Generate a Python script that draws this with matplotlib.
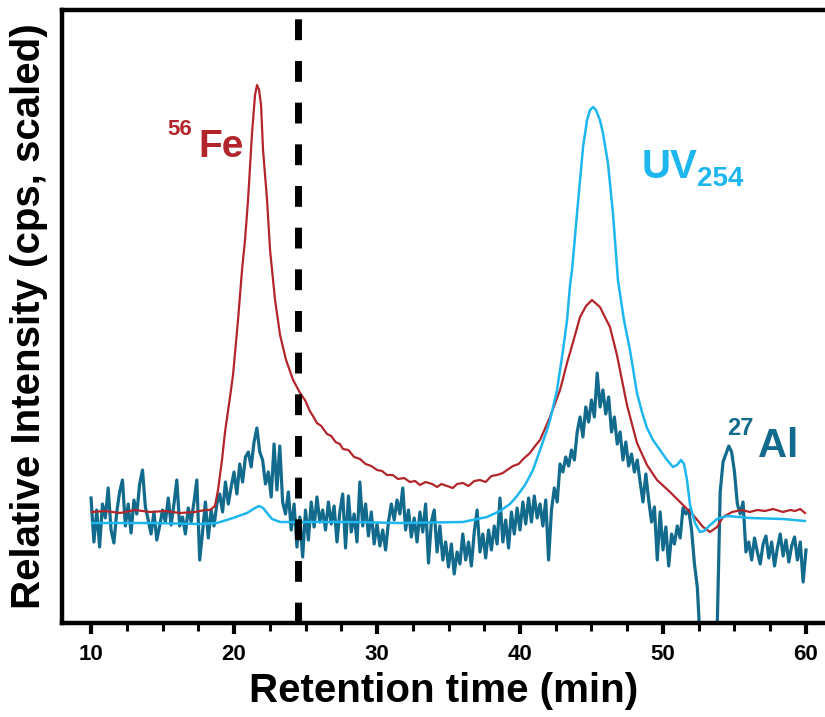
import numpy as np
import matplotlib
matplotlib.use("Agg")
import matplotlib.pyplot as plt
from matplotlib.ticker import MultipleLocator

# --- data -------------------------------------------------------------
# 56Fe ICP-MS trace (retention time in min, scaled cps)
fe_time = [10.07, 10.98, 12.03, 13.08, 14.13, 15.17, 16.22, 17.27, 17.97, 18.32,
           18.67, 18.88, 19.16, 19.37, 19.72, 19.93, 20.28, 20.56, 20.77, 20.98,
           21.26, 21.47, 21.61, 21.75, 21.89, 22.03, 22.31, 22.52, 22.87, 23.22,
           23.64, 24.13, 24.62, 25.00, 25.30, 25.52, 25.80, 26.10, 26.50, 26.80,
           27.10, 27.40, 27.62, 28.00, 28.40, 28.81, 29.20, 29.60, 30.00, 30.35,
           30.70, 31.10, 31.47, 31.90, 32.30, 32.66, 33.00, 33.40, 33.85, 34.20,
           34.50, 34.90, 35.30, 35.60, 36.01, 36.40, 36.80, 37.20, 37.60, 38.00,
           38.39, 38.80, 39.10, 39.51, 39.90, 40.30, 40.70, 41.00, 41.40, 42.10,
           42.80, 43.29, 43.85, 44.20, 44.62, 45.03, 45.59, 46.29, 46.78, 47.48,
           48.18, 48.88, 49.58, 50.49, 51.40, 52.11, 52.80, 53.29, 53.78, 54.20,
           54.83, 55.50, 56.08, 56.60, 57.13, 57.70, 58.39, 58.90, 59.23, 59.60,
           59.93]
fe_signal = [110, 111, 109, 112, 110, 111, 109, 110, 112, 112,
             116, 132, 162, 190, 225, 247, 302, 352, 382, 422,
             489, 527, 537, 532, 517, 472, 422, 372, 322, 287,
             262, 242, 229, 221, 211, 206, 199, 196, 188, 186,
             180, 178, 173, 172, 165, 163, 158, 156, 152, 151,
             147, 147, 143, 144, 140, 141, 137, 140, 138, 135,
             138, 136, 134, 138, 139, 136, 141, 142, 140, 146,
             147, 149, 152, 156, 158, 164, 169, 175, 182, 205,
             232, 259, 287, 305, 316, 322, 315, 295, 267, 217,
             179, 157, 142, 130, 117, 107, 95, 90, 95, 105,
             110, 112, 110, 112, 111, 113, 110, 112, 111, 113,
             109]

# UV absorbance at 254 nm
uv_time = [10.07, 14.13, 17.62, 18.81, 19.93, 20.91, 21.47, 21.75, 22.03, 22.31,
           22.66, 23.22, 24.62, 28.11, 31.61, 36.01, 37.69, 38.60, 39.30, 39.79,
           40.35, 40.91, 41.40, 41.89, 42.10, 42.59, 43.01, 43.29, 43.50, 43.64,
           43.99, 44.20, 44.41, 44.69, 44.90, 45.11, 45.31, 45.59, 45.80, 46.15,
           46.50, 46.85, 47.27, 47.69, 48.18, 48.53, 48.88, 49.30, 49.79, 50.28,
           50.70, 50.98, 51.26, 51.47, 51.68, 51.89, 52.24, 52.59, 52.87, 53.22,
           53.78, 54.48, 56.08, 58.39, 59.93]
uv_signal = [99, 99, 98, 99, 104, 109, 114, 116, 114, 109,
             103, 100, 100, 100, 99, 100, 105, 111, 118, 126,
             137, 152, 172, 192, 202, 232, 272, 302, 337, 352,
             409, 442, 475, 502, 512, 515, 512, 502, 489, 459,
             409, 342, 302, 272, 229, 210, 194, 182, 172, 162,
             155, 157, 162, 158, 142, 117, 99, 90, 91, 96,
             103, 106, 104, 103, 101]

# 27Al ICP-MS trace, sampled every 0.2 min from 10 to 60 min
al_start = 10.0
al_step = 0.2
al_signal = [
    124, 80, 112, 75, 118,    104, 134, 92, 79, 110,
    130, 142, 96, 118, 89,    122, 108, 138, 152, 115,
    102, 88, 110, 82, 96,     112, 100, 124, 97, 118,
    142, 96, 105, 88, 114,    100, 120, 142, 62, 90,
    120, 84, 112, 96, 118,    128, 110, 140, 118, 135,
    150, 128, 158, 140, 165,  170, 155, 180, 194, 170,
    162, 138, 150, 125, 178,  132, 176, 120, 108, 130,
    92, 118, 75, 105, 65,     112, 82, 120, 95, 125,
    100, 112, 92, 120, 98,    116, 80, 110, 128, 74,
    126, 90, 108, 80, 140,    96, 118, 86, 110, 78,
    98, 76, 92, 72, 100,      118, 102, 122, 108, 134,
    92, 112, 85, 104, 80,     110, 90, 118, 59, 100,
    112, 70, 96, 62, 80,      55, 78, 48, 70, 58,
    88, 62, 80, 56, 90,       112, 70, 88, 64, 92,
    72, 96, 78, 124, 80,      102, 74, 110, 88, 114,
    92, 120, 98, 124, 100,    126, 104, 118, 96, 122,
    62, 112, 134, 120, 158,   150, 165, 156, 172, 162,
    190, 205, 185, 215, 200,  222, 205, 249, 215, 232,
    208, 225, 190, 205, 178,  190, 162, 180, 156, 168,
    150, 162, 140, 120, 148,  122, 100, 115, 62, 110,
    72, 95, 56, 88, 78,       96, 84, 114, 108, 112,
    92, 58, 35, -20, -60,     -60, -60, -60, -60, 0,
    130, 160, 168, 176, 170,  150, 118, 108, 120, 70,
    80, 62, 84, 70, 58,       78, 86, 64, 80, 56,
    74, 88, 66, 82, 60,       76, 85, 62, 80, 40,
    72,
]
al_time = al_start + al_step * np.arange(len(al_signal))

void_time = 24.5
x_major = [10, 20, 30, 40, 50, 60]

# --- styling ------------------------------------------------------------
FE_COLOR = "#B2262B"
UV_COLOR = "#1DB6EE"
AL_COLOR = "#126A8C"
BOLD_FONT = ["Liberation Sans", "DejaVu Sans"]
NARROW_FONT = ["Liberation Sans Narrow", "Liberation Sans", "DejaVu Sans"]

fig = plt.figure(figsize=(8.25, 7.17), dpi=100)
ax = fig.add_axes([62 / 825, 94 / 717, 763 / 825, 613 / 717])

ax.plot(al_time, al_signal, color=AL_COLOR, lw=2.3, zorder=2)
ax.plot(fe_time, fe_signal, color=FE_COLOR, lw=1.6, zorder=3)
ax.plot(uv_time, uv_signal, color=UV_COLOR, lw=1.8, zorder=4)

ax.axvline(void_time, color="black", lw=5, dashes=(3.0, 3.0), zorder=5)

ax.set_xlim(7.97, 61.33)
ax.set_ylim(-1, 612)

for side in ("left", "top", "bottom"):
    ax.spines[side].set_linewidth(3.2)
ax.spines["right"].set_visible(False)

ax.set_yticks([])
ax.set_xticks(x_major)
ax.xaxis.set_minor_locator(MultipleLocator(2.5))
ax.tick_params(axis="x", which="major", direction="out", length=8, width=3, pad=7)
ax.tick_params(axis="x", which="minor", direction="out", length=6, width=2.2)
for lab in ax.get_xticklabels():
    lab.set_family(NARROW_FONT)
    lab.set_fontweight("bold")
    lab.set_fontsize(16)

ax.set_xlabel("Retention time (min)", family=BOLD_FONT, fontweight="bold",
              fontsize=29, labelpad=5)
ax.set_ylabel("Relative Intensity (cps, scaled)", family=BOLD_FONT,
              fontweight="bold", fontsize=29, labelpad=10)

# trace labels
ax.text(15.31, 487, "56", color=FE_COLOR, family=BOLD_FONT, fontweight="bold",
        fontsize=16, va="baseline", ha="left")
ax.text(17.48, 465, "Fe", color=FE_COLOR, family=BOLD_FONT, fontweight="bold",
        fontsize=28, va="baseline", ha="left")
ax.text(48.53, 444, "UV", color=UV_COLOR, family=BOLD_FONT, fontweight="bold",
        fontsize=29, va="baseline", ha="left")
ax.text(52.38, 436, "254", color=UV_COLOR, family=BOLD_FONT, fontweight="bold",
        fontsize=20, va="baseline", ha="left")
ax.text(54.48, 187, "27", color=AL_COLOR, family=BOLD_FONT, fontweight="bold",
        fontsize=17, va="baseline", ha="left")
ax.text(56.64, 165, "Al", color=AL_COLOR, family=BOLD_FONT, fontweight="bold",
        fontsize=29, va="baseline", ha="left")

fig.savefig("out.png", dpi=100)
